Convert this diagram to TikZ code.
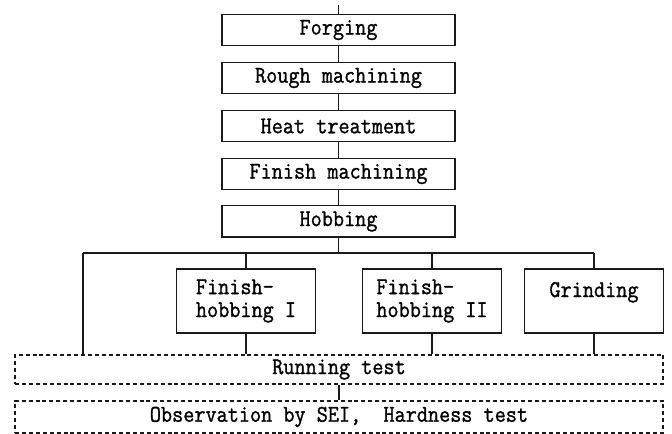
\documentclass[tikz,border=0pt]{standalone}
\usepackage{fontspec}
\setmonofont[FakeStretch=0.9,FakeBold=1.2]{Latin Modern Mono}
\usepackage{tikz}

\begin{document}
\begin{tikzpicture}[x=0.75pt,y=-0.75pt,font=\ttfamily\fontsize{18}{17.2}\selectfont]

\definecolor{flowink}{HTML}{1A1A1A}

\tikzset{
  stepbox/.style={
    draw=flowink, line width=1.1pt, inner sep=0pt,
    minimum width=174.75pt, minimum height=23.6pt
  },
  branchbox/.style={
    draw=flowink, line width=1.1pt, inner sep=0pt, align=left,
    minimum width=104pt, minimum height=48pt
  },
  testbox/.style={
    draw=flowink, line width=0.8pt, inner sep=0pt,
    dash pattern=on 3pt off 2.2pt, minimum width=486pt
  },
  link/.style={draw=flowink, line width=1.1pt}
}

\useasboundingbox (0,0) rectangle (672,434);

% Main route of the gear blank.
\coordinate (start) at (338.5,5);
\node[stepbox] (forging)   at (338.5,30)  {Forging};
\node[stepbox] (rough)     at (338.5,78)  {Rough machining};
\node[stepbox] (heat)      at (338.5,126) {Heat treatment};
\node[stepbox] (finish)    at (338.5,174) {Finish machining};
\node[stepbox] (hobbing)   at (338.5,221.5) {Hobbing};

\foreach \from/\to in {start/forging,forging/rough,rough/heat,heat/finish,finish/hobbing}
  \draw[link] (\from) -- (\to);

% Finishing variants after hobbing.
\node[branchbox] (fhone)    at (246,301) {Finish-\\hobbing I};
\node[branchbox] (fhtwo)    at (432,301) {Finish-\\hobbing II};
\node[branchbox] (grinding) at (594,301) {Grinding\\\phantom{h}};

% Tests shared by all variants.
\node[testbox, minimum height=21.75pt] (running) at (339,369.5) {Running test};
\node[testbox, minimum height=24pt]    (observe) at (339,417)
  {Observation by SEI,\ \ Hardness test};

% Branch bus.
\coordinate (split)    at (338.5,253);
\coordinate (busleft)  at (83,253);
\coordinate (busright) at (594,253);
\draw[link] (hobbing) -- (split);
\draw[link] (busleft) -- (busright);
\draw[link] (busleft) -- (busleft |- running.north);

\foreach \b in {fhone,fhtwo,grinding} {
  \draw[link] (\b.north |- split) -- (\b.north);
  \draw[link] (\b.south) -- (\b.south |- running.north);
}

\draw[link] (running) -- (observe);

\end{tikzpicture}
\end{document}
